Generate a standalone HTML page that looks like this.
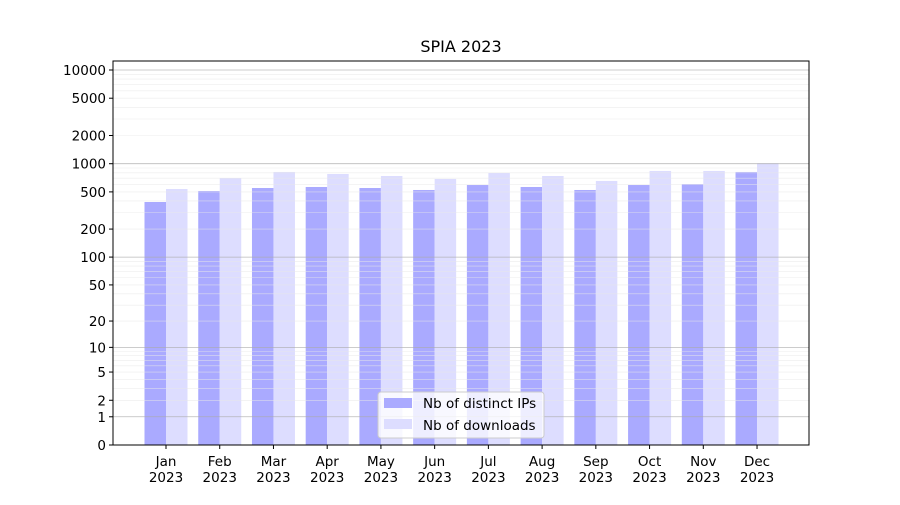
<!DOCTYPE html>
<html><head><meta charset="utf-8"><style>
body{margin:0;background:#fff;}
svg text{font-family:"DejaVu Sans","Liberation Sans",sans-serif;font-size:13.5px;fill:#000;}
</style></head><body>
<svg id="chart" width="900" height="500" xmlns="http://www.w3.org/2000/svg">
<text x="461" y="52" text-anchor="middle" style="font-size:16px">SPIA 2023</text>
<g id="bars"></g>
<g id="grid" opacity="0.8"></g>
<rect x="113" y="61" width="696" height="384" fill="none" stroke="#000" stroke-width="1"/>
<g id="axes"></g>
<g>
<rect x="378" y="392" width="166" height="46" rx="3" fill="#fff" fill-opacity="0.8" stroke="#ccc"/>
<rect x="384" y="398" width="28" height="10" fill="#aaaaff"/>
<text x="423" y="408">Nb of distinct IPs</text>
<rect x="384" y="419" width="28" height="10" fill="#ddddff"/>
<text x="423" y="430">Nb of downloads</text>
</g>
</svg>
<script>
const months=["Jan","Feb","Mar","Apr","May","Jun","Jul","Aug","Sep","Oct","Nov","Dec"];
const distinctIPs=[390,511,550,564,550,524,592,564,524,592,607,816];
const downloads=[537,704,816,777,739,687,796,739,654,837,837,1010];
const yTicks=[0,1,2,5,10,20,50,100,200,500,1000,2000,5000,10000];
const NS="http://www.w3.org/2000/svg";
function y(v){return 445-Math.log10(v+1)*93.75;}
function x(i){return 166+i*53.73;}
const bw=21.5;
function mk(tag,attrs,parent){const e=document.createElementNS(NS,tag);for(const k in attrs)e.setAttribute(k,attrs[k]);parent.appendChild(e);return e;}
const grid=document.getElementById('grid'),bars=document.getElementById('bars'),axes=document.getElementById('axes');
for(let d=1;d<=10000;d*=10){for(let m=1;m<10;m++){const v=d*m;if(v>12000)break;const yy=y(v);
const l=mk('line',{x1:113,x2:809,y1:yy,y2:yy,stroke:m===1?'#aaa':'#e8e8e8','stroke-width':m===1?0.8:0.6},grid);

}}
months.forEach((mo,i)=>{
const a=mk('rect',{x:x(i)-bw,y:y(distinctIPs[i]),width:bw,height:445-y(distinctIPs[i]),fill:'#aaaaff'},bars);


const b=mk('rect',{x:x(i),y:y(downloads[i]),width:bw,height:445-y(downloads[i]),fill:'#ddddff'},bars);


mk('line',{x1:x(i),x2:x(i),y1:445,y2:449,stroke:'#000'},axes);
const t=mk('text',{x:x(i),y:466,'text-anchor':'middle'},axes);t.textContent=mo;


const t2=mk('text',{x:x(i),y:482,'text-anchor':'middle'},axes);t2.textContent='2023';


});
yTicks.forEach(v=>{const yy=y(v);
mk('line',{x1:109,x2:113,y1:yy,y2:yy,stroke:'#000'},axes);
const t=mk('text',{x:106,y:yy+5,'text-anchor':'end'},axes);t.textContent=v;

});
</script>
</body></html>
